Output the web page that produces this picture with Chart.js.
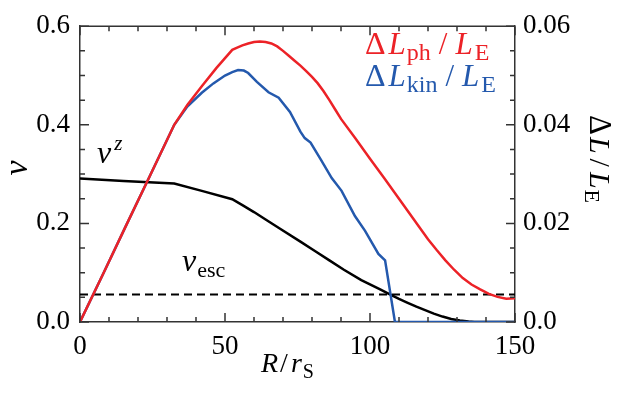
<!DOCTYPE html>
<html lang="en">
<head>
  <meta charset="utf-8">
  <title>v and luminance vs R</title>
  <script src="https://cdn.jsdelivr.net/npm/chart.js@4.4.0/dist/chart.umd.min.js"></script>
  <style>
    body { margin: 0; background: #fff; }
    #wrap { width: 625px; height: 397px; }
  </style>
</head>
<body>
  <div id="wrap"><canvas id="chart" width="625" height="397"></canvas></div>
  <script>
    // R / r_S samples and values
    const rPh = [0, 8, 16, 24, 32.5, 37, 42, 47, 52.5, 54, 56, 58, 60, 62, 64, 66, 68, 70, 72, 74, 76, 78, 80, 82, 84, 86, 88, 90, 95, 100, 105, 110, 115, 120, 123, 126, 129, 132, 135, 138, 141, 144, 147, 150];
    const lPh = [0, 0.0098, 0.0197, 0.0295, 0.0400, 0.0440, 0.0478, 0.0515, 0.0552, 0.0556, 0.0561, 0.0565, 0.0568, 0.0569, 0.0568, 0.0565, 0.0559, 0.0550, 0.0540, 0.0530, 0.0520, 0.0509, 0.0497, 0.0484, 0.0468, 0.0450, 0.0431, 0.0412, 0.0372, 0.0331, 0.0291, 0.0250, 0.0209, 0.0168, 0.0146, 0.0125, 0.0106, 0.0089, 0.0076, 0.0066, 0.0057, 0.0051, 0.0047, 0.0048];

    const rKin = [0, 8, 16, 24, 32.5, 37, 42, 46, 50, 52.5, 54.5, 56.5, 58, 61, 65, 68.5, 72.4, 76, 77.5, 79.5, 83, 86.8, 90.2, 94.8, 98.3, 102.9, 105.2, 108.6, 150];
    const lKin = [0, 0.0098, 0.0197, 0.0295, 0.0400, 0.0437, 0.0465, 0.0484, 0.0500, 0.0507, 0.0511, 0.0510, 0.0505, 0.0487, 0.0466, 0.0455, 0.0426, 0.0386, 0.0373, 0.0364, 0.0330, 0.0292, 0.0266, 0.0215, 0.0185, 0.0138, 0.0125, 0, 0];

    const rVz = [0, 15, 32.5, 42, 52.5, 56, 60, 64, 69, 76, 81, 86, 91, 97, 103.5, 106.5, 110, 113, 116, 119, 122, 125, 128, 131, 134, 136, 150];
    const vVz = [0.291, 0.286, 0.281, 0.266, 0.249, 0.237, 0.223, 0.208, 0.189, 0.163, 0.144, 0.125, 0.106, 0.085, 0.066, 0.057, 0.047, 0.039, 0.031, 0.024, 0.017, 0.011, 0.006, 0.003, 0.001, 0, 0];

    const rEsc = [0, 150];
    const vEsc = [0.056, 0.056];

    const xTicks = [0, 50, 100, 150];
    const vTicks = [0, 0.2, 0.4, 0.6];
    const lTicks = [0, 0.02, 0.04, 0.06];

    const RED = '#ec2227';
    const BLUE = '#2459ad';
    const AXIS = '#333';
    const FONT = '"Liberation Serif", "DejaVu Serif", serif';

    function pts(xs, ys) {
      return xs.map((x, i) => ({ x: x, y: ys[i] }));
    }

    // text pieces (italic / sub / superscripts) drawn along one baseline
    function mathWidth(ctx, parts) {
      let w = 0;
      parts.forEach(p => {
        ctx.font = (p.it ? 'italic ' : '') + p.s + 'px ' + FONT;
        w += (p.g || 0) + ctx.measureText(p.t).width;
      });
      return w;
    }
    function mathText(ctx, x, y, parts, color) {
      ctx.fillStyle = color;
      ctx.textAlign = 'left';
      ctx.textBaseline = 'alphabetic';
      parts.forEach(p => {
        ctx.font = (p.it ? 'italic ' : '') + p.s + 'px ' + FONT;
        x += p.g || 0;
        ctx.fillText(p.t, x, y + (p.dy || 0));
        x += ctx.measureText(p.t).width;
      });
    }

    const legendParts = sub => [
      { t: '\u0394', s: 32 }, { t: 'L', s: 31, it: true, g: 3 },
      { t: sub, s: 24, dy: 6, g: 1 }, { t: '/', s: 31, g: 8 },
      { t: 'L', s: 31, it: true, g: 8 }, { t: 'E', s: 24, dy: 6, g: 2 }
    ];

    const frame = {
      id: 'frame',
      afterDraw(chart) {
        const { ctx, chartArea: a, scales } = chart;
        const x = scales.x, y = scales.y, y2 = scales.y2;
        ctx.save();
        ctx.strokeStyle = AXIS;
        ctx.lineWidth = 1.5;
        ctx.beginPath();
        ctx.moveTo(a.left, a.top);
        ctx.lineTo(a.right, a.top);
        ctx.stroke();

        ctx.beginPath();
        for (let r = 0; r <= 150; r += 10) {
          const px = x.getPixelForValue(r);
          const len = r % 50 === 0 ? 9 : 5;
          ctx.moveTo(px, a.bottom); ctx.lineTo(px, a.bottom - len);
          ctx.moveTo(px, a.top); ctx.lineTo(px, a.top + len);
        }
        for (let k = 0; k <= 12; k++) {
          const len = k % 4 === 0 ? 9 : 5;
          const py = y.getPixelForValue(k * 0.05);
          ctx.moveTo(a.left, py); ctx.lineTo(a.left + len, py);
          const py2 = y2.getPixelForValue(k * 0.005);
          ctx.moveTo(a.right, py2); ctx.lineTo(a.right - len, py2);
        }
        ctx.stroke();

        // legend
        mathText(ctx, 365, 54, legendParts('ph'), RED);
        mathText(ctx, 365, 86, legendParts('kin'), BLUE);

        // curve labels
        mathText(ctx, 97, 163, [{ t: 'v', s: 32, it: true }, { t: 'z', s: 21, it: true, dy: -13, g: 3 }], '#000');
        mathText(ctx, 182, 271, [{ t: 'v', s: 32, it: true }, { t: 'esc', s: 22, dy: 6, g: 1 }], '#000');

        // x title
        mathText(ctx, 261, 372, [
          { t: 'R', s: 28, it: true }, { t: '/', s: 28, g: 2 },
          { t: 'r', s: 28, it: true, g: 3 }, { t: 'S', s: 20, dy: 6, g: 1 }
        ], '#000');

        // left title
        ctx.save();
        ctx.translate(27, 168);
        ctx.rotate(-Math.PI / 2);
        const vParts = [{ t: 'v', s: 34, it: true }];
        mathText(ctx, -mathWidth(ctx, vParts) / 2, 0, vParts, '#000');
        ctx.restore();

        // right title
        const rParts = [
          { t: '\u0394', s: 31 }, { t: 'L', s: 30, it: true, g: 2 },
          { t: '/', s: 30, g: 5 }, { t: 'L', s: 30, it: true, g: 5 },
          { t: 'E', s: 22, dy: 5, g: 1 }
        ];
        ctx.save();
        ctx.translate(590, 159);
        ctx.rotate(Math.PI / 2);
        mathText(ctx, -mathWidth(ctx, rParts) / 2, 0, rParts, '#000');
        ctx.restore();

        ctx.restore();
      }
    };

    Chart.defaults.font.family = FONT;
    Chart.defaults.font.size = 27;
    Chart.defaults.color = '#000';

    const line = (data, color, axis, order, extra) => Object.assign({
      data: data,
      borderColor: color,
      borderWidth: 2.5,
      pointRadius: 0,
      tension: 0,
      fill: false,
      yAxisID: axis,
      order: order
    }, extra || {});

    new Chart(document.getElementById('chart'), {
      type: 'line',
      data: {
        datasets: [
          line(pts(rPh, lPh), RED, 'y2', 0),
          line(pts(rKin, lKin), BLUE, 'y2', 1),
          line(pts(rEsc, vEsc), '#000', 'y', 2, { borderDash: [8, 5], borderWidth: 2 }),
          line(pts(rVz, vVz), '#000', 'y', 3)
        ]
      },
      options: {
        responsive: false,
        animation: false,
        devicePixelRatio: 1,
        layout: { padding: { top: 10 } },
        plugins: { legend: { display: false }, tooltip: { enabled: false } },
        scales: {
          x: {
            type: 'linear', min: 0, max: 150,
            afterBuildTicks: s => { s.ticks = xTicks.map(v => ({ value: v })); },
            ticks: { padding: 9, maxRotation: 0, callback: v => String(v) },
            grid: { display: false, drawTicks: false },
            border: { color: AXIS, width: 1.5 },
            afterFit: s => { s.height = 75; }
          },
          y: {
            position: 'left', min: 0, max: 0.6,
            afterBuildTicks: s => { s.ticks = vTicks.map(v => ({ value: v })); },
            ticks: { padding: 10, callback: v => v.toFixed(1) },
            grid: { display: false, drawTicks: false },
            border: { color: AXIS, width: 1.5 },
            afterFit: s => { s.width = 80; }
          },
          y2: {
            position: 'right', min: 0, max: 0.06,
            afterBuildTicks: s => { s.ticks = lTicks.map(v => ({ value: v })); },
            ticks: { padding: 8, callback: v => v === 0 ? '0.0' : v.toFixed(2) },
            grid: { display: false, drawTicks: false },
            border: { color: AXIS, width: 1.5 },
            afterFit: s => { s.width = 110; }
          }
        }
      },
      plugins: [frame]
    });
  </script>
</body>
</html>
